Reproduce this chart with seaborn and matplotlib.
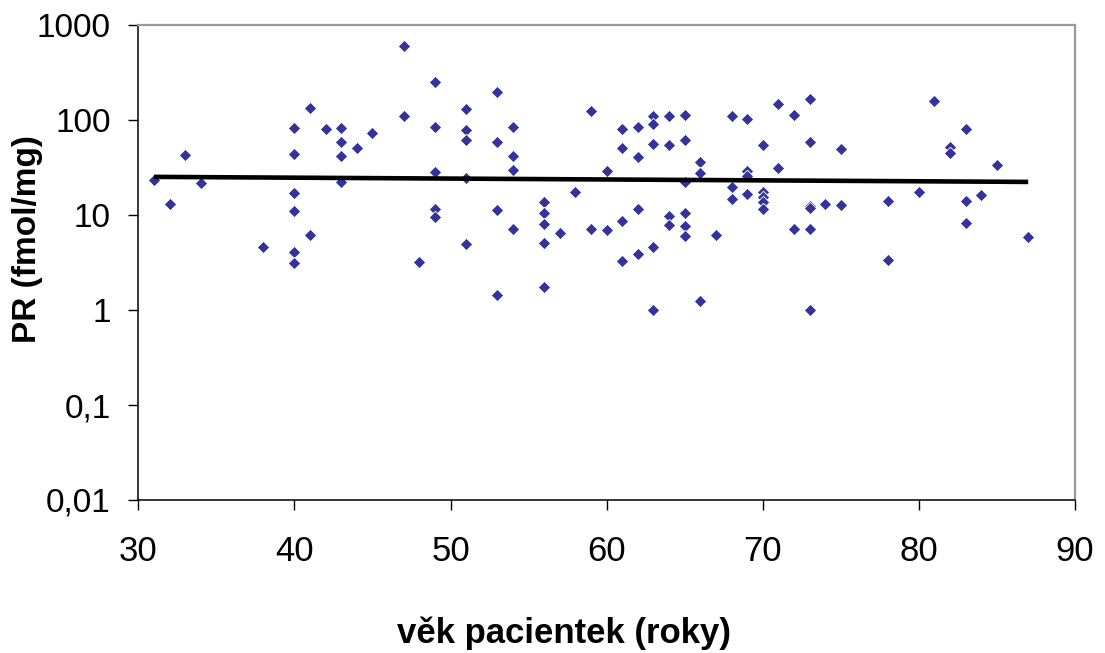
import numpy as np
import pandas as pd
import matplotlib
matplotlib.use("Agg")
import matplotlib.pyplot as plt
import seaborn as sns

# Patient age (years) and progesterone receptor level (fmol/mg)
age = [31, 32, 33, 34, 38,
       40, 40, 40, 40, 40, 40,
       41, 41, 42,
       43, 43, 43, 43, 44, 45,
       47, 47, 48,
       49, 49, 49, 49, 49,
       51, 51, 51, 51, 51,
       53, 53, 53, 53,
       54, 54, 54, 54,
       56, 56, 56, 56, 56,
       57, 58, 59, 59, 60, 60,
       61, 61, 61, 61,
       62, 62, 62, 62,
       63, 63, 63, 63, 63,
       64, 64, 64, 64,
       65, 65, 65, 65, 65, 65,
       66, 66, 66, 67,
       68, 68, 68,
       69, 69, 69, 69,
       70, 70, 70, 70, 70,
       71, 71, 72, 72,
       73, 73, 73, 73, 73, 73,
       74, 75, 75, 78, 78, 80, 81, 82, 82,
       83, 83, 83, 84, 85, 87]
pr = [23.2, 12.9, 42.7, 21.8, 4.65,
      83, 43.8, 17.2, 11.0, 4.05, 3.1,
      134, 6.2, 80,
      83, 58, 41.4, 22.1, 50.7, 72.5,
      598, 110, 3.2,
      249, 84, 28.4, 11.5, 9.5,
      131, 78.5, 61.5, 24.8, 5.0,
      198, 58, 11.2, 1.44,
      84.5, 41.4, 30.1, 7.2,
      13.7, 10.6, 8.1, 5.1, 1.73,
      6.5, 17.3, 124, 7.1, 29.4, 6.9,
      81, 51, 8.55, 3.28,
      84.5, 40.7, 11.6, 3.9,
      111, 91, 55.5, 4.65, 0.99,
      110, 54.5, 9.7, 7.8,
      114, 61, 22, 10.5, 7.6, 6.0,
      35.7, 27.7, 1.23, 6.2,
      109, 19.9, 14.7,
      103.5, 29, 26, 16.5,
      54.5, 17.5, 15.5, 13.7, 11.5,
      149, 30.9, 113, 7.1,
      166, 58.6, 12.5, 11.8, 7.1, 1.0,
      12.9, 49, 12.8, 13.9, 3.37, 17.3, 159, 51.5, 44.6,
      81, 13.9, 8.3, 16.1, 33.3, 5.8]

# Exponential trend line: PR value at the youngest and the oldest patient
trend_age = [31, 87]
trend_pr = [25.2, 22.3]

y_ticks = [0.01, 0.1, 1, 10, 100, 1000]
y_tick_labels = ["0,01", "0,1", "1", "10", "100", "1000"]
x_ticks = [30, 40, 50, 60, 70, 80, 90]

df = pd.DataFrame({"age": age, "pr": pr})
trend = pd.DataFrame({"age": trend_age, "pr": trend_pr})

sns.set_style("white")
plt.rcParams["font.family"] = ["Liberation Sans", "DejaVu Sans"]
plt.rcParams["text.color"] = "black"
plt.rcParams["axes.labelcolor"] = "black"
plt.rcParams["xtick.color"] = "black"
plt.rcParams["ytick.color"] = "black"

fig = plt.figure(figsize=(11.05, 6.53), dpi=100)
ax = fig.add_axes([138.3 / 1105, 1 - 500 / 653, (1075 - 138.3) / 1105, (500 - 25) / 653])

sns.scatterplot(data=df, x="age", y="pr", marker="D", s=40, color="#333399",
                edgecolor="white", linewidth=0.6, ax=ax, zorder=2)

# straight on the log axis: interpolate the exponential between its end values
xf = np.linspace(trend_age[0], trend_age[1], 50)
yf = 10 ** np.interp(xf, trend_age, np.log10(trend_pr))
ax.plot(xf, yf, color="black", lw=3.3, solid_capstyle="butt", zorder=3)

ax.set_yscale("log")
ax.set_ylim(0.01, 1000)
ax.set_xlim(30, 90)
ax.set_yticks(y_ticks)
ax.set_yticklabels(y_tick_labels)
ax.set_xticks(x_ticks)
ax.minorticks_off()

ax.tick_params(axis="y", direction="out", length=7, width=1, color="black",
               labelsize=24, labelcolor="black", pad=13)
ax.tick_params(axis="x", direction="out", length=7, width=1, color="black",
               labelsize=25, labelcolor="black", pad=18)
ax.tick_params(left=True, bottom=True)

for side in ("left", "bottom"):
    ax.spines[side].set_color("black")
    ax.spines[side].set_linewidth(1.1)
for side in ("top", "right"):
    ax.spines[side].set_color("#9a9a9a")
    ax.spines[side].set_linewidth(1.6)

ax.set_xlabel("věk pacientek (roky)", fontsize=25, fontweight="bold", va="center",
              color="black")
ax.xaxis.set_label_coords(0.455, -0.28)
ax.set_ylabel("PR (fmol/mg)", fontsize=24, fontweight="bold", va="center",
              color="black")
ax.yaxis.set_label_coords(-0.118, 0.55)

fig.savefig("out.png", dpi=100, facecolor="white")
